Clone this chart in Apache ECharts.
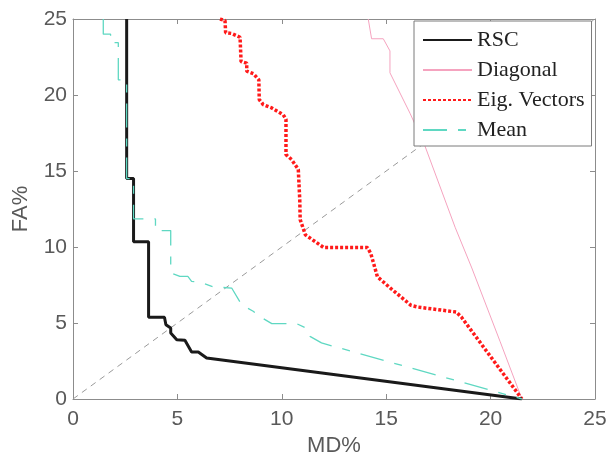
<!DOCTYPE html>
<html>
<head>
<meta charset="utf-8">
<script src="https://cdn.jsdelivr.net/npm/echarts@6/dist/echarts.min.js"></script>
<style>html,body{margin:0;padding:0;background:#fff;}#c{width:608px;height:453px;}</style>
</head>
<body>
<div id="c"></div>
<script>
// ---- data ----
var xTicks = [0, 5, 10, 15, 20, 25];
var yTicks = [0, 5, 10, 15, 20, 25];

var rscX = [2.57, 2.57, 2.9, 2.9, 3.62, 3.62, 4.38, 4.45, 4.68, 4.68, 4.97, 5.36, 5.68, 6.0, 6.4, 21.5];
var rscY = [25, 14.5, 14.5, 10.35, 10.35, 5.38, 5.38, 4.89, 4.67, 4.34, 3.9, 3.86, 3.09, 3.09, 2.7, 0];

var diagX = [14.14, 14.3, 14.86, 15.18, 15.18, 16.14, 16.86, 18.3, 19.1, 20.45, 21.5];
var diagY = [25, 23.7, 23.7, 22.9, 21.46, 18.8, 16.63, 11.3, 8.62, 3.8, 0];

var eigX = [7.04, 7.28, 7.31, 7.6, 8.0, 8.05, 8.32, 8.32, 8.64, 8.9, 8.92, 9.11, 9.52, 10.07, 10.2, 10.2, 10.47, 10.79, 10.86, 10.88, 11.13, 12.01, 14.1, 14.26, 14.58, 15.23, 16.19, 16.51, 18.36, 18.6, 21.5];
var eigY = [25, 24.9, 24.1, 24.05, 23.8, 22.2, 22.1, 21.57, 21.4, 21.0, 19.7, 19.37, 19.15, 18.7, 18.4, 16.08, 15.75, 15.1, 13.1, 11.8, 10.8, 9.96, 9.96, 9.58, 8.04, 7.26, 6.16, 6.05, 5.72, 5.39, 0];

var meanX = [1.45, 1.45, 1.8, 1.8, 2.17, 2.17, 2.57, 2.57, 2.9, 2.9, 3.95, 3.95, 4.68, 4.68, 5.12, 5.5, 5.68, 6.08, 6.72, 7.6, 8.08, 8.63, 8.92, 9.52, 10.71, 11.24, 11.35, 11.9, 21.5];
var meanY = [25, 24.0, 24.0, 23.44, 23.44, 21.0, 21.0, 14.5, 14.5, 11.85, 11.85, 11.08, 11.08, 8.3, 8.07, 8.07, 7.74, 7.68, 7.38, 7.3, 6.2, 5.77, 5.44, 4.96, 4.96, 4.61, 4.12, 3.69, 0];

var refX = [0, 25];
var refY = [0, 25];

var seriesNames = ['RSC', 'Diagonal', 'Eig. Vectors', 'Mean'];

function pairs(xs, ys) { return xs.map(function (x, i) { return [x, ys[i]]; }); }

var axisGray = '#8c8c8c';
var textGray = '#595959';

var chart = echarts.init(document.getElementById('c'), null, { renderer: 'canvas' });

var baseX = {
  type: 'value', min: xTicks[0], max: xTicks[xTicks.length - 1], interval: 5,
  splitLine: { show: false },
  axisLine: { show: true, onZero: false, lineStyle: { color: axisGray, width: 1 } },
  axisTick: { show: true, inside: true, length: 5, lineStyle: { color: axisGray } }
};
var baseY = {
  type: 'value', min: yTicks[0], max: yTicks[yTicks.length - 1], interval: 5,
  splitLine: { show: false },
  axisLine: { show: true, onZero: false, lineStyle: { color: axisGray, width: 1 } },
  axisTick: { show: true, inside: true, length: 5, lineStyle: { color: axisGray } }
};

var option = {
  animation: false,
  backgroundColor: '#ffffff',
  grid: { left: 73, right: 13, top: 19, bottom: 54, containLabel: false, outerBoundsMode: 'none' },
  xAxis: [
    Object.assign({}, baseX, {
      position: 'bottom',
      name: 'MD%', nameLocation: 'middle', nameGap: 34,
      nameTextStyle: { fontFamily: 'Liberation Sans', fontSize: 22, color: textGray },
      axisLabel: { margin: 10, fontFamily: 'Liberation Sans', fontSize: 21, color: textGray }
    }),
    Object.assign({}, baseX, { position: 'top', axisLabel: { show: false } })
  ],
  yAxis: [
    Object.assign({}, baseY, {
      position: 'left',
      name: 'FA%', nameLocation: 'middle', nameGap: 41,
      nameTextStyle: { fontFamily: 'Liberation Sans', fontSize: 22, color: textGray },
      axisLabel: { margin: 6, fontFamily: 'Liberation Sans', fontSize: 21, color: textGray }
    }),
    Object.assign({}, baseY, { position: 'right', axisLabel: { show: false } })
  ],
  legend: {
    data: seriesNames,
    orient: 'vertical',
    left: 414, top: 21,
    padding: [8, 7, 5, 8],
    itemWidth: 49, itemHeight: 14, itemGap: 8,
    backgroundColor: '#ffffff',
    borderColor: '#7a7a7a', borderWidth: 1,
    itemStyle: { opacity: 0 },
    textStyle: { fontFamily: 'Liberation Serif', fontSize: 22, color: '#222', lineHeight: 22 },
    selectedMode: false
  },
  series: [
    {
      name: '_ref', type: 'line', data: pairs(refX, refY), symbol: 'none', silent: true,
      lineStyle: { color: '#9a9a9a', width: 1, type: [6, 5] }, z: 1
    },
    {
      name: seriesNames[0], type: 'line', data: pairs(rscX, rscY), symbol: 'none',
      lineStyle: { color: '#1a1a1a', width: 3 }, itemStyle: { color: '#1a1a1a' }, z: 5
    },
    {
      name: seriesNames[1], type: 'line', data: pairs(diagX, diagY), symbol: 'none',
      lineStyle: { color: '#f5a3bf', width: 1 }, itemStyle: { color: '#f5a3bf' }, z: 3
    },
    {
      name: seriesNames[2], type: 'line', data: pairs(eigX, eigY), symbol: 'none',
      lineStyle: { color: '#ff1a1a', width: 3.5, type: [3, 2] }, itemStyle: { color: '#ff1a1a' }, z: 4
    },
    {
      name: seriesNames[3], type: 'line', data: pairs(meanX, meanY), symbol: 'none',
      lineStyle: { color: '#5fd8c2', width: 1.3, type: [24, 11, 8, 11] }, itemStyle: { color: '#5fd8c2' }, z: 6
    }
  ]
};
chart.setOption(option);
</script>
</body>
</html>
